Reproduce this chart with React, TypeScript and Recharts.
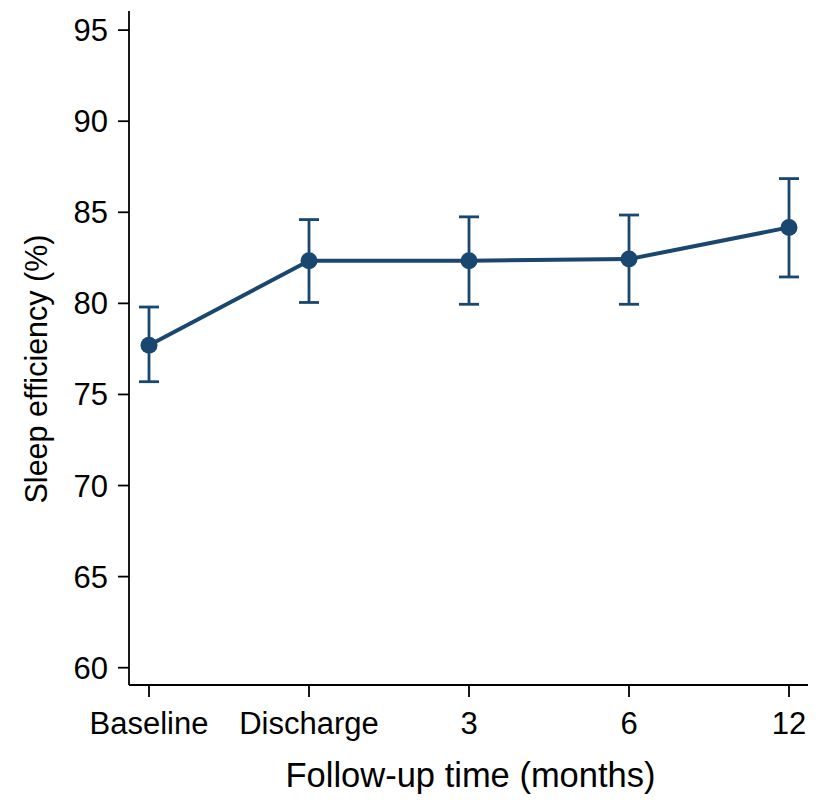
import React from "react";
import { LineChart, Line, XAxis, YAxis, ErrorBar } from "recharts";

const NAVY = "#1a476f";
const FONT = "Arial, 'Liberation Sans', Helvetica, sans-serif";

// follow-up points and sleep efficiency (%), mean with 95% CI
const timepoints = ["Baseline", "Discharge", "3", "6", "12"];
const meanSE = [77.7, 82.34, 82.34, 82.43, 84.17];
const lowerCI = [75.7, 80.05, 79.95, 79.95, 81.45];
const upperCI = [79.8, 84.6, 84.75, 84.85, 86.85];
const yTicks = [60, 65, 70, 75, 80, 85, 90, 95];

const data = timepoints.map((t, i) => ({
  time: t,
  se: meanSE[i],
  ci: [meanSE[i] - lowerCI[i], upperCI[i] - meanSE[i]],
}));

function YTitle(props: any) {
  const { viewBox } = props;
  const cx = 47;
  const cy = viewBox.y + viewBox.height / 2 + 21;
  return (
    <text
      x={cx}
      y={cy}
      transform={`rotate(-90 ${cx} ${cy})`}
      textAnchor="middle"
      fontSize={30.5}
      fontFamily={FONT}
      fill="#000"
    >
      Sleep efficiency (%)
    </text>
  );
}

function XTitle(props: any) {
  const { viewBox } = props;
  const cx = viewBox.x + viewBox.width / 2 + 2;
  return (
    <text
      x={cx}
      y={787}
      textAnchor="middle"
      fontSize={34.5}
      fontFamily={FONT}
      fill="#000"
    >
      Follow-up time (months)
    </text>
  );
}

export default function App() {
  return (
    <div style={{ position: "absolute", left: 0, top: 0, background: "#fff" }}>
      <LineChart
        width={827}
        height={808}
        data={data}
        margin={{ top: 11, right: 19, bottom: 0, left: 0 }}
      >
        <XAxis
          dataKey="time"
          type="category"
          height={123}
          padding={{ left: 20, right: 19 }}
          stroke="#000"
          strokeWidth={1.8}
          tickSize={12}
          tickMargin={15}
          tick={{ fill: "#000", fontSize: 31, fontFamily: FONT }}
          interval={0}
          label={<XTitle />}
        />
        <YAxis
          type="number"
          domain={[59.05, 96.05]}
          ticks={yTicks}
          allowDataOverflow
          width={129}
          stroke="#000"
          strokeWidth={1.8}
          tickSize={11}
          tickMargin={10}
          tick={{ fill: "#000", fontSize: 31, fontFamily: FONT }}
          label={<YTitle />}
        />
        <Line
          dataKey="se"
          stroke={NAVY}
          strokeWidth={4}
          isAnimationActive={false}
          dot={{ r: 8.5, fill: NAVY, stroke: NAVY, strokeWidth: 0 }}
          activeDot={false}
        >
          <ErrorBar
            dataKey="ci"
            width={10}
            stroke={NAVY}
            strokeWidth={2.8}
            direction="y"
            isAnimationActive={false}
          />
        </Line>
      </LineChart>
    </div>
  );
}
